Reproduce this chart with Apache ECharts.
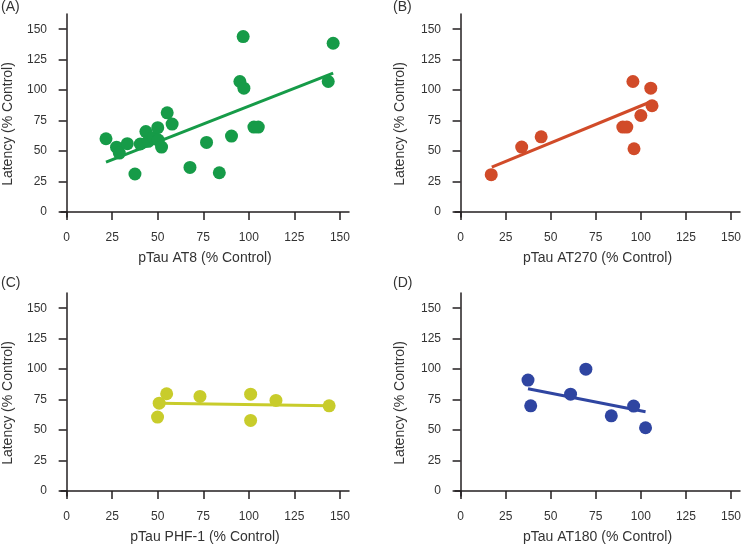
<!DOCTYPE html>
<html>
<head>
<meta charset="utf-8">
<script src="https://cdn.jsdelivr.net/npm/echarts@6/dist/echarts.min.js"></script>
<style>
  html, body { margin: 0; padding: 0; background: #fff; }
  #chart { width: 744px; height: 545px; }
</style>
</head>
<body>
<div id="chart"></div>
<script>
// values
const tickValues = [0, 25, 50, 75, 100, 125, 150]
const panelLabels = ['(A)', '(B)', '(C)', '(D)']
const xTitles = ['pTau AT8 (% Control)', 'pTau AT270 (% Control)', 'pTau PHF-1 (% Control)', 'pTau AT180 (% Control)']
const yTitle = 'Latency (% Control)'
const colors = ['#169b48', '#d14b29', '#c8cc2b', '#2f45a1']

const at8Points = [
  [21.6, 60.1], [27.4, 53.2], [28.9, 48.4], [33.3, 56.1], [37.5, 31.2],
  [40.4, 55.8], [43.5, 66.0], [44.8, 58.0], [47.6, 61.0], [50.0, 69.2],
  [50.3, 59.0], [52.1, 53.3], [55.2, 81.4], [57.9, 72.2], [67.7, 36.6],
  [76.8, 57.1], [83.8, 32.2], [90.5, 62.3], [95.1, 107.1], [97.3, 101.6],
  [96.9, 144.0], [102.8, 69.7], [105.2, 69.7], [143.6, 107.1], [146.3, 138.5]
]
const at8Fit = [[21.6, 41.0], [146.3, 113.9]]

const at270Points = [
  [17.0, 30.6], [33.9, 53.3], [44.7, 61.7], [90.0, 69.7], [92.2, 69.7],
  [95.6, 107.1], [96.2, 51.9], [100.0, 79.2], [105.5, 101.6], [106.2, 87.2]
]
const at270Fit = [[17.3, 36.9], [105.9, 90.7]]

const phf1Points = [
  [49.9, 60.7], [50.8, 72.1], [54.9, 79.8], [73.2, 77.6], [101.0, 79.5],
  [101.0, 57.9], [114.9, 74.3], [144.1, 69.9]
]
const phf1Fit = [[51.2, 72.1], [144.1, 69.9]]

const at180Points = [
  [37.4, 91.0], [38.9, 69.9], [61.0, 79.5], [69.5, 100.0], [83.6, 61.7],
  [96.0, 69.7], [102.6, 51.9]
]
const at180Fit = [[37.4, 83.9], [102.6, 65.0]]

const pointSets = [at8Points, at270Points, phf1Points, at180Points]
const fitSets = [at8Fit, at270Fit, phf1Fit, at180Fit]

const axisColor = '#231f20'
const labelColor = '#333'
const font = 'Liberation Sans, Arial, sans-serif'

// panel layout: left/top of each plot box
const boxes = [
  { left: 61, top: 14 },
  { left: 455, top: 14 },
  { left: 61, top: 293 },
  { left: 455, top: 293 }
]
const boxW = 288
const boxH = 203

const chart = echarts.init(document.getElementById('chart'))

const grid = boxes.map(b => ({ left: b.left, top: b.top, width: boxW, height: boxH }))

const xAxis = boxes.map((b, i) => ({
  type: 'value',
  gridIndex: i,
  min: -3.1,
  max: 155,
  name: xTitles[i],
  nameLocation: 'middle',
  nameGap: 34,
  nameTextStyle: { color: labelColor, fontSize: 14, fontFamily: font },
  axisLine: { show: true, lineStyle: { color: axisColor, width: 1.5 } },
  axisTick: { show: true, length: 8, customValues: tickValues, lineStyle: { color: axisColor, width: 1.5 } },
  axisLabel: { customValues: tickValues, color: labelColor, fontSize: 12, fontFamily: font, margin: 15 },
  splitLine: { show: false }
}))

const yAxis = boxes.map((b, i) => ({
  type: 'value',
  gridIndex: i,
  min: -4.1,
  max: 162.5,
  axisLine: { show: true, lineStyle: { color: axisColor, width: 1.5 } },
  axisTick: { show: true, length: 8, customValues: tickValues, lineStyle: { color: axisColor, width: 1.5 } },
  axisLabel: { customValues: tickValues, color: labelColor, fontSize: 12, fontFamily: font, margin: 14 },
  splitLine: { show: false }
}))

const series = []
pointSets.forEach((pts, i) => {
  series.push({
    type: 'scatter',
    xAxisIndex: i,
    yAxisIndex: i,
    data: pts,
    symbol: 'circle',
    symbolSize: 13,
    itemStyle: { color: colors[i], opacity: 1 },
    z: 3
  })
  series.push({
    type: 'line',
    xAxisIndex: i,
    yAxisIndex: i,
    data: fitSets[i],
    showSymbol: false,
    lineStyle: { color: colors[i], width: 3 },
    z: 2
  })
})

const graphic = []
const labelPos = [[1, 7], [393, 7], [1, 283], [393, 283]]
panelLabels.forEach((t, i) => {
  graphic.push({
    type: 'text',
    x: labelPos[i][0],
    y: labelPos[i][1],
    style: { text: t, fill: labelColor, fontSize: 14, fontFamily: font, textAlign: 'left', textVerticalAlign: 'middle' }
  })
})
const yTitlePos = [[8, 124], [400, 124], [8, 403], [400, 403]]
yTitlePos.forEach(p => {
  graphic.push({
    type: 'text',
    x: p[0],
    y: p[1],
    rotation: Math.PI / 2,
    style: { text: yTitle, fill: labelColor, fontSize: 14, fontFamily: font, textAlign: 'center', textVerticalAlign: 'middle' }
  })
})

chart.setOption({
  animation: false,
  grid,
  xAxis,
  yAxis,
  series,
  graphic
})
</script>
</body>
</html>
